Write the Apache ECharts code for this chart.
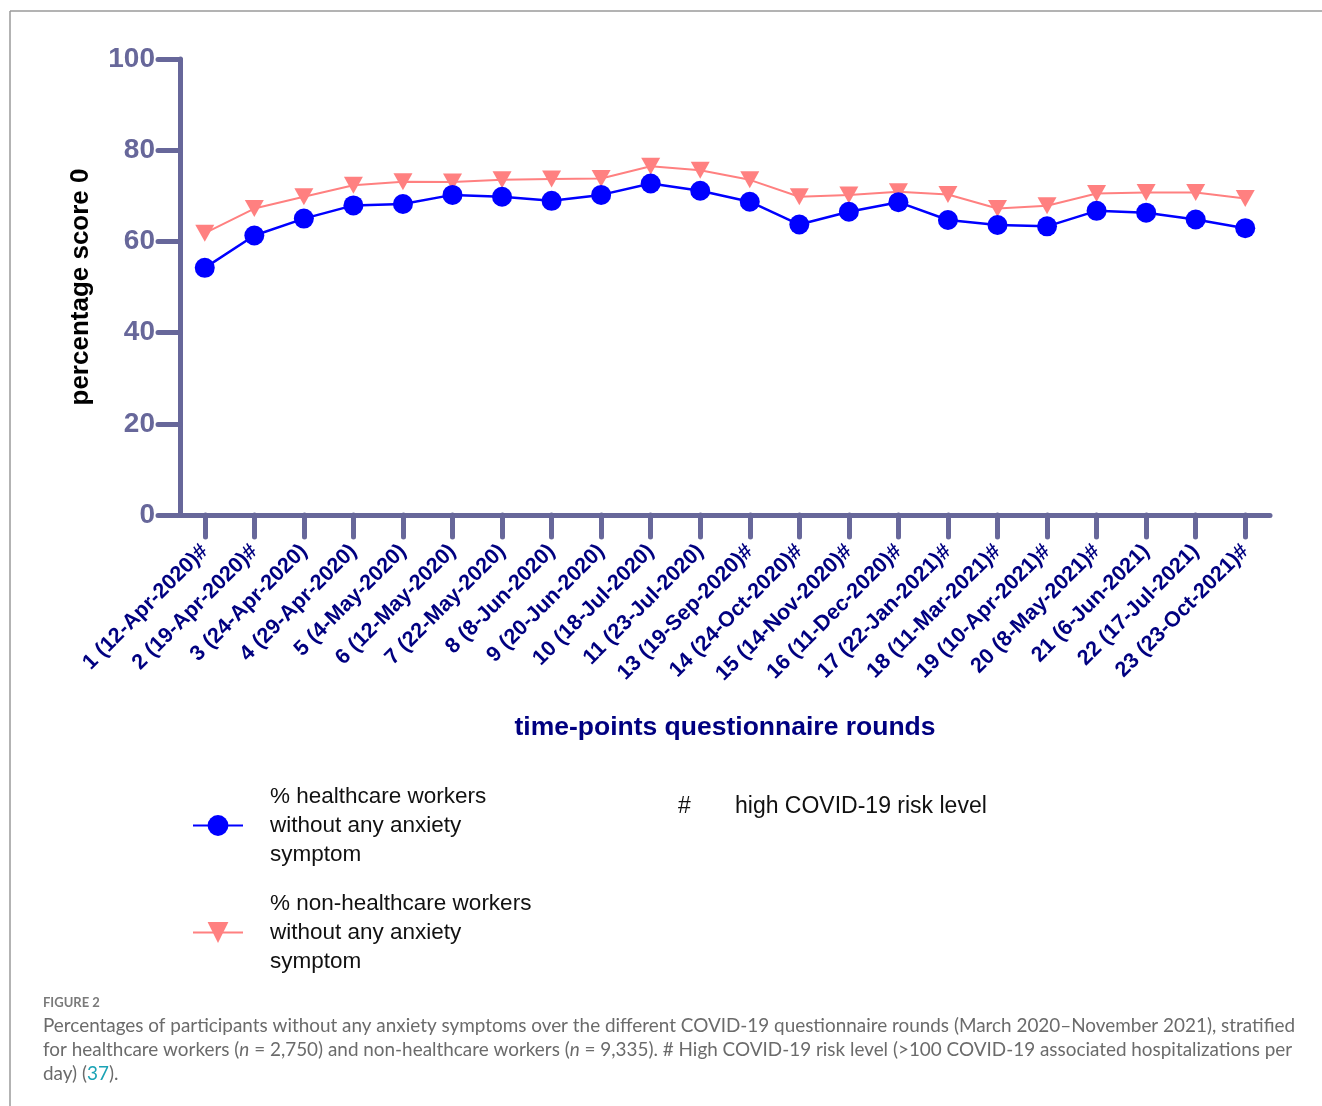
<!DOCTYPE html>
<html lang="en">

<head>
    <meta charset="UTF-8">
    <title>Figure 2</title>
    <script src="https://cdn.jsdelivr.net/npm/echarts@6/dist/echarts.min.js"></script>
    <style>
        html, body { margin: 0; padding: 0; background: #fff; }
        .box { width: 1322px; height: 1106px; }
    </style>
</head>

<body>
    <div class="box"></div>

    <script>
        // questionnaire rounds (round 12 missing in the figure)
        var rounds = ['1 (12-Apr-2020)#', '2 (19-Apr-2020)#', '3 (24-Apr-2020)', '4 (29-Apr-2020)',
            '5 (4-May-2020)', '6 (12-May-2020)', '7 (22-May-2020)', '8 (8-Jun-2020)', '9 (20-Jun-2020)',
            '10 (18-Jul-2020)', '11 (23-Jul-2020)', '13 (19-Sep-2020)#', '14 (24-Oct-2020)#',
            '15 (14-Nov-2020)#', '16 (11-Dec-2020)#', '17 (22-Jan-2021)#', '18 (11-Mar-2021)#',
            '19 (10-Apr-2021)#', '20 (8-May-2021)#', '21 (6-Jun-2021)', '22 (17-Jul-2021)', '23 (23-Oct-2021)#'];
        var healthcare = [54.2, 61.3, 65.0, 67.9, 68.2, 70.2, 69.8, 68.9, 70.2, 72.7, 71.1,
            68.7, 63.7, 66.5, 68.6, 64.7, 63.6, 63.3, 66.7, 66.3, 64.8, 62.9];
        var nonHealthcare = [61.8, 67.2, 69.8, 72.3, 73.1, 73.0, 73.5, 73.7, 73.8, 76.5, 75.6,
            73.5, 69.8, 70.2, 70.9, 70.3, 67.2, 67.8, 70.5, 70.7, 70.7, 69.4];
        var yTicks = [0, 20, 40, 60, 80, 100];

        var axisColor = '#67679a';
        var navy = '#000080';
        var font = 'Arial';

        var myChart = echarts.init(document.querySelector('.box'));

        var option = {
            animation: false,
            backgroundColor: '#fff',
            textStyle: { fontFamily: font },
            grid: { left: 180, right: 52, top: 59, bottom: 591, containLabel: false },
            xAxis: {
                type: 'category',
                data: rounds,
                boundaryGap: true,
                name: 'time-points questionnaire rounds',
                nameLocation: 'middle',
                nameGap: 199,
                nameTextStyle: { color: navy, fontSize: 26.5, fontWeight: 'bold', fontFamily: font },
                axisLine: { lineStyle: { color: axisColor, width: 5, cap: 'round' } },
                axisTick: { show: true, inside: false, interval: 0, alignWithLabel: true, length: 22, lineStyle: { color: axisColor, width: 5, cap: 'round' } },
                axisLabel: { interval: 0, rotate: 45, margin: 33, color: navy, fontSize: 21.5, fontWeight: 'bold', fontFamily: font },
                splitLine: { show: false }
            },
            yAxis: {
                type: 'value',
                min: yTicks[0],
                max: yTicks[yTicks.length - 1],
                interval: 20,
                name: 'percentage score 0',
                nameLocation: 'middle',
                nameGap: 86,
                nameRotate: 90,
                nameTextStyle: { color: '#000', fontSize: 26, fontWeight: 'bold', fontFamily: font },
                axisLine: { show: true, lineStyle: { color: axisColor, width: 5, cap: 'round' } },
                axisTick: { show: true, length: 22, lineStyle: { color: axisColor, width: 5, cap: 'round' } },
                axisLabel: { margin: 25, color: axisColor, fontSize: 28, fontWeight: 'bold', fontFamily: font },
                splitLine: { show: false }
            },
            legend: {
                orient: 'vertical',
                left: 187,
                top: 777,
                itemWidth: 50,
                itemHeight: 26,
                itemGap: 20,
                textStyle: { fontSize: 22.5, lineHeight: 29, color: '#111', fontFamily: font, padding: [0, 0, 0, 22] },
                data: ['% healthcare workers\nwithout any anxiety\nsymptom', '% non-healthcare workers\nwithout any anxiety\nsymptom']
            },
            graphic: [
                { type: 'line', shape: { x1: 10, y1: 11, x2: 1322, y2: 11 }, style: { stroke: '#9a9a9a', lineWidth: 1.5 } },
                { type: 'line', shape: { x1: 10, y1: 11, x2: 10, y2: 1106 }, style: { stroke: '#9a9a9a', lineWidth: 1.5 } },
                { type: 'text', left: 678, top: 795, style: { text: '#', fontSize: 23, fill: '#111', fontFamily: font } },
                { type: 'text', left: 735, top: 795, style: { text: 'high COVID-19 risk level', fontSize: 23, fill: '#111', fontFamily: font } },
                { type: 'text', left: 43, top: 996, style: { text: 'FIGURE 2', fontSize: 13, fontWeight: 'bold', fill: '#7a7a7a', fontFamily: 'Lato' } },
                {
                    type: 'text', left: 43, top: 1016,
                    style: {
                        text: 'Percentages of participants without any anxiety symptoms over the different COVID-19 questionnaire rounds (March 2020\u2013November 2021), stratified',
                        fontSize: 18.9, fill: '#6b6b6b', fontFamily: 'Lato'
                    }
                },
                {
                    type: 'text', left: 43, top: 1040,
                    style: {
                        text: 'for healthcare workers ({i|n} = 2,750) and non-healthcare workers ({i|n} = 9,335). # High COVID-19 risk level (>100 COVID-19 associated hospitalizations per',
                        fontSize: 18.9, fill: '#6b6b6b', fontFamily: 'Lato',
                        rich: { i: { fontStyle: 'italic', fontSize: 18.9, fill: '#6b6b6b', fontFamily: 'Lato' } }
                    }
                },
                {
                    type: 'text', left: 43, top: 1064,
                    style: {
                        text: 'day) ({c|37}).',
                        fontSize: 18.9, fill: '#6b6b6b', fontFamily: 'Lato',
                        rich: { c: { fill: '#1ba3b5', fontSize: 18.9, fontFamily: 'Lato' } }
                    }
                }
            ],
            series: [{
                name: '% healthcare workers\nwithout any anxiety\nsymptom',
                type: 'line',
                data: healthcare,
                symbol: 'circle',
                symbolSize: 20,
                z: 3,
                lineStyle: { color: '#0000ff', width: 2.5 },
                itemStyle: { color: '#0000ff' }
            }, {
                name: '% non-healthcare workers\nwithout any anxiety\nsymptom',
                type: 'line',
                data: nonHealthcare,
                symbol: 'triangle',
                symbolRotate: 180,
                symbolSize: [19, 17],
                z: 2,
                lineStyle: { color: '#ff8080', width: 2 },
                itemStyle: { color: '#ff8080' }
            }]
        };

        myChart.setOption(option);
    </script>
</body>

</html>
